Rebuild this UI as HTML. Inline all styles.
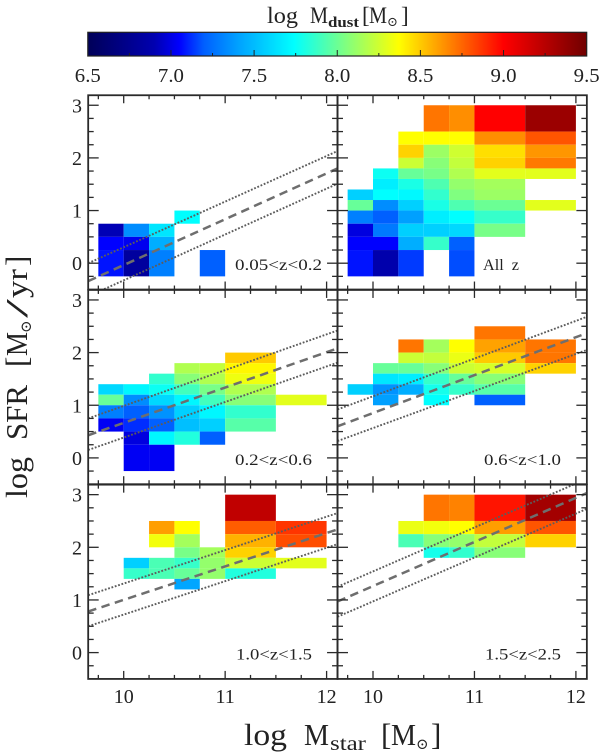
<!DOCTYPE html>
<html lang="en">
<head>
<meta charset="utf-8">
<title>Dust mass in the SFR vs stellar mass plane</title>
<style>
html,body{margin:0;padding:0;background:#fff;width:600px;height:753px;overflow:hidden}
svg{display:block}
text{font-family:"Liberation Serif","DejaVu Serif",serif;fill:#222}
</style>
</head>
<body>
<svg id="chart" xmlns="http://www.w3.org/2000/svg" width="600" height="753" viewBox="0 0 600 753">
  <g font-size="23">
    <text x="267" y="23" textLength="31" lengthAdjust="spacingAndGlyphs">log</text>
    <text x="310" y="23" textLength="18" lengthAdjust="spacingAndGlyphs">M</text>
    <text x="328" y="27" font-size="15" font-weight="bold" textLength="31" lengthAdjust="spacingAndGlyphs">dust</text>
    <text x="362" y="23">[</text>
    <text x="369" y="23" textLength="18" lengthAdjust="spacingAndGlyphs">M</text>
    <text x="387" y="26" font-size="13">⊙</text>
    <text x="401" y="23">]</text>
  </g>
  <g font-size="31">
    <text transform="translate(27,498) rotate(-90)" textLength="41" lengthAdjust="spacingAndGlyphs">log</text>
    <text transform="translate(27,440) rotate(-90)" textLength="55" lengthAdjust="spacingAndGlyphs">SFR</text>
    <text transform="translate(27,367) rotate(-90)">[</text>
    <text transform="translate(27,356) rotate(-90)" textLength="24" lengthAdjust="spacingAndGlyphs">M</text>
    <text transform="translate(31,333) rotate(-90)" font-size="15">⊙</text>
    <text transform="translate(27,318) rotate(-90)" textLength="19" lengthAdjust="spacingAndGlyphs">/</text>
    <text transform="translate(27,298) rotate(-90)" textLength="29" lengthAdjust="spacingAndGlyphs">yr</text>
    <text transform="translate(27,266) rotate(-90)">]</text>
  </g>
  <g font-size="31">
    <text x="244" y="745" textLength="43" lengthAdjust="spacingAndGlyphs">log</text>
    <text x="304" y="745" textLength="25" lengthAdjust="spacingAndGlyphs">M</text>
    <text x="330" y="750" font-size="20" textLength="36" lengthAdjust="spacingAndGlyphs">star</text>
    <text x="381" y="745">[</text>
    <text x="391" y="745" textLength="25" lengthAdjust="spacingAndGlyphs">M</text>
    <text x="416" y="749" font-size="15">⊙</text>
    <text x="431" y="745">]</text>
  </g>
</svg>
<script>
const _ = null;
const xEdges = [9.75, 10, 10.25, 10.5, 10.75, 11, 11.5, 12];
const yEdges = [3, 2.5, 2.25, 2, 1.8, 1.6, 1.4, 1.2, 1, 0.75, 0.5, 0.25, -0.25];
const xTickLabels = ['10', '11', '12'];
const yTickLabels = ['0', '1', '2', '3'];
const colorbarLabels = ['6.5', '7.0', '7.5', '8.0', '8.5', '9.0', '9.5'];
const panelNames = ['0.05<z<0.2', 'All  z', '0.2<z<0.6', '0.6<z<1.0', '1.0<z<1.5', '1.5<z<2.5'];

const colorValues = [6.5, 6.9, 7.05, 7.2, 7.4, 7.74, 8.05, 8.37, 9.0, 9.5];
const colorHex = ['#000058', '#0000b0', '#0000ff', '#0060ff', '#00a0ff', '#00ffff', '#80ff80', '#ffff00', '#ff0000', '#700000'];

const gridLowZ = [
  [_,_,_,_,_,_,_],[_,_,_,_,_,_,_],[_,_,_,_,_,_,_],[_,_,_,_,_,_,_],
  [_,_,_,_,_,_,_],[_,_,_,_,_,_,_],[_,_,_,_,_,_,_],[_,_,_,_,_,_,_],
  [_,_,_,7.74,_,_,_],
  [6.91,7.34,7.65,_,_,_,_],
  [7.05,7.02,7.45,_,_,_,_],
  [7.08,6.82,7.30,_,7.20,_,_]
];
const gridAllZ = [
  [_,_,_,8.71,8.65,9.0,9.35],
  [_,_,8.37,8.37,8.37,8.65,8.79],
  [_,_,8.48,8.12,8.25,8.45,8.63],
  [_,_,8.24,8.07,8.22,8.48,8.70],
  [_,7.77,7.99,8.03,8.17,8.30,8.30],
  [_,7.68,7.80,7.93,8.10,8.14,_],
  [7.57,7.74,7.72,7.86,8.05,8.12,_],
  [7.99,7.34,7.57,7.80,7.93,8.0,8.30],
  [7.30,7.20,7.40,7.68,7.74,7.87,_],
  [6.99,7.28,7.57,7.57,7.60,8.03,_],
  [7.05,7.05,7.45,7.87,7.20,_,_],
  [7.08,6.88,7.14,_,7.17,_,_]
];
const gridZ02 = [
  [_,_,_,_,_,_,_],[_,_,_,_,_,_,_],[_,_,_,_,_,_,_],
  [_,_,_,_,_,8.5,_],
  [_,_,_,8.17,8.22,8.39,_],
  [_,_,7.86,8.07,8.17,8.33,_],
  [7.60,7.71,7.77,7.90,8.03,8.17,_],
  [7.99,7.34,7.60,7.71,7.90,8.07,8.30],
  [7.30,7.20,7.36,7.57,7.71,7.86,_],
  [7.03,7.12,7.20,7.51,7.57,7.95,_],
  [_,6.99,7.71,7.82,7.20,_,_],
  [_,7.03,7.03,_,_,_,_]
];
const gridZ06 = [
  [_,_,_,_,_,_,_],
  [_,_,_,_,_,8.71,_],
  [_,_,8.71,8.14,8.37,8.6,8.71],
  [_,_,8.24,8.22,8.32,8.5,8.71],
  [_,7.99,7.99,8.07,8.24,8.27,8.48],
  [_,7.65,7.68,7.87,7.99,8.07,_],
  [7.57,7.36,7.45,7.79,7.87,7.95,_],
  [_,7.40,_,7.74,_,7.20,_],
  [_,_,_,_,_,_,_],[_,_,_,_,_,_,_],[_,_,_,_,_,_,_],[_,_,_,_,_,_,_]
];
const gridZ10 = [
  [_,_,_,_,_,9.22,_],
  [_,_,8.61,8.37,_,8.77,8.87],
  [_,_,8.34,8.14,_,8.56,8.81],
  [_,_,_,8.03,8.14,8.48,_],
  [_,7.57,7.92,7.87,8.10,8.24,8.30],
  [_,7.87,7.92,7.99,8.10,7.82,_],
  [_,_,_,7.42,_,_,_],
  [_,_,_,_,_,_,_],[_,_,_,_,_,_,_],[_,_,_,_,_,_,_],[_,_,_,_,_,_,_],[_,_,_,_,_,_,_]
];
const gridZ15 = [
  [_,_,_,8.71,8.68,8.95,9.32],
  [_,_,8.32,8.34,8.37,8.61,8.79],
  [_,_,7.92,8.07,8.10,8.22,8.48],
  [_,_,_,7.79,7.86,8.07,_],
  [_,_,_,_,_,_,_],[_,_,_,_,_,_,_],[_,_,_,_,_,_,_],[_,_,_,_,_,_,_],
  [_,_,_,_,_,_,_],[_,_,_,_,_,_,_],[_,_,_,_,_,_,_],[_,_,_,_,_,_,_]
];
const panelGrids = [gridLowZ, gridAllZ, gridZ02, gridZ06, gridZ10, gridZ15];

/* relation values in log SFR at the left and right plot limits, per panel */
const midStart = [-0.34, _, 0.43, 0.60, 0.78, 0.97];
const midEnd = [1.80, _, 2.08, 2.37, 2.34, 3.03];
const upperStart = [0.00, _, 0.75, 0.92, 1.09, 1.25];
const upperEnd = [2.13, _, 2.42, 2.68, 2.65, 3.30];
const lowerStart = [-0.63, _, 0.15, 0.32, 0.50, 0.68];
const lowerEnd = [1.51, _, 1.81, 2.05, 2.06, 2.73];

const svg = document.getElementById('chart');
const NS = 'http://www.w3.org/2000/svg';
const xMin = 9.65, xMax = 12.108, yMin = -0.5, yMax = 3.19;

function make(tag, attrs, parent) {
  const el = document.createElementNS(NS, tag);
  for (const k in attrs) el.setAttribute(k, attrs[k]);
  parent.appendChild(el);
  return el;
}
function xScale(v, col) { return 123.7 + 101.45 * (v - 10) + 249.3 * col; }
function yScale(v, row) { return 263.2 + 194.7 * row - 52.65 * v; }
function cbScale(v) { return 87.8 + (v - 6.5) * 166.3; }
function hexToRgb(h) { return [1, 3, 5].map(i => parseInt(h.substr(i, 2), 16)); }
function colorFor(v) {
  let i = 0;
  while (i < colorValues.length - 2 && v > colorValues[i + 1]) i++;
  const t = Math.max(0, Math.min(1, (v - colorValues[i]) / (colorValues[i + 1] - colorValues[i])));
  const a = hexToRgb(colorHex[i]), b = hexToRgb(colorHex[i + 1]);
  return 'rgb(' + a.map((c, k) => Math.round(c + (b[k] - c) * t)).join(',') + ')';
}

/* colorbar */
const defs = make('defs', {}, svg);
const grad = make('linearGradient', { id: 'cbGrad', x1: '0', x2: '1', y1: '0', y2: '0' }, defs);
colorValues.forEach((v, i) => {
  make('stop', { offset: (v - 6.5) / 3, 'stop-color': colorHex[i] }, grad);
});
const cb = make('g', {}, svg);


make('rect', { x: cbScale(6.5), y: 32.3, width: cbScale(9.5) - cbScale(6.5), height: 23.7, fill: 'url(#cbGrad)', stroke: '#222', 'stroke-width': 1.2 }, cb);
for (let v = 6.75; v < 9.5; v += 0.25) {
  const isMajor = Math.abs(v * 2 - Math.round(v * 2)) < 1e-6;
  make('line', { x1: cbScale(v), x2: cbScale(v), y1: 56, y2: isMajor ? 50 : 53, stroke: '#222', 'stroke-width': 1 }, cb);
}
colorbarLabels.forEach(label => {
  const t = make('text', { x: cbScale(parseFloat(label)) - 13, y: 82, 'font-size': 20, textLength: 26, lengthAdjust: 'spacingAndGlyphs' }, svg);
  t.textContent = label;
  
  
});

/* panels */
const labelX = [235, 483, 235, 484, 236, 485];
const labelW = [87, 36, 77, 77, 76, 76];
panelGrids.forEach((grid, p) => {
  const col = p % 2, row = Math.floor(p / 2);
  const left = xScale(xMin, col), right = xScale(xMax, col);
  const top = yScale(yMax, row), bottom = yScale(yMin, row);

  const g = make('g', {}, svg);
  
  

  const clip = make('clipPath', { id: 'clip' + p }, defs);
  make('rect', { x: left, y: top, width: right - left, height: bottom - top }, clip);

  grid.forEach((cells, r) => {
    cells.forEach((v, c) => {
      if (v === null) return;
      const x0 = xScale(xEdges[c], col), x1 = xScale(xEdges[c + 1], col);
      const y0 = yScale(yEdges[r], row), y1 = yScale(yEdges[r + 1], row);
      const cell = make('rect', { x: x0, y: y0, width: x1 - x0, height: y1 - y0, fill: colorFor(v) }, g);
      
      
    });
  });

  const lineSets = [
    [upperStart[p], upperEnd[p], '1.8 1.7', 1.9, '#5c5c5c', 'upper-scatter-line'],
    [lowerStart[p], lowerEnd[p], '1.8 1.7', 1.9, '#5c5c5c', 'lower-scatter-line'],
    [midStart[p], midEnd[p], '8.5 5.5', 2.5, '#6e6e6e', 'main-sequence-line']
  ];
  lineSets.forEach(s => {
    if (s[0] === null) return;
    const ln = make('line', {
      x1: left, x2: right, y1: yScale(s[0], row), y2: yScale(s[1], row),
      stroke: s[4], 'stroke-width': s[3], 'stroke-dasharray': s[2], 'clip-path': 'url(#clip' + p + ')'
    }, g);
    
    
  });

  const ticks = make('g', { stroke: '#2a2a2a', 'stroke-width': 1.3 }, g);
  
  
  for (let v = 9.75; v <= 12; v += 0.25) {
    const major = Number.isInteger(v);
    const len = major ? 8 : 4, x = xScale(v, col);
    make('line', { x1: x, x2: x, y1: bottom, y2: bottom - len }, ticks);
    make('line', { x1: x, x2: x, y1: top, y2: top + len }, ticks);
  }
  for (let v = -0.25; v <= 3; v += 0.25) {
    const major = Number.isInteger(v);
    const len = major ? 10.5 : 5.5, y = yScale(v, row);
    make('line', { x1: left, x2: left + len, y1: y, y2: y }, ticks);
    make('line', { x1: right, x2: right - len, y1: y, y2: y }, ticks);
  }
  const frame = make('rect', { x: left, y: top, width: right - left, height: bottom - top, fill: 'none', stroke: '#2a2a2a', 'stroke-width': 1.8 }, g);
  
  

  const lab = make('text', { x: labelX[p], y: yScale(0, row) + 7, 'font-size': 16, textLength: labelW[p], lengthAdjust: 'spacingAndGlyphs' }, g);
  lab.textContent = panelNames[p];
  lab.setAttribute('xml:space', 'preserve');
  lab.style.whiteSpace = 'pre';
  
  

  if (col === 0) {
    yTickLabels.forEach(label => {
      const t = make('text', { x: 77, y: yScale(parseFloat(label), row) + 7, 'text-anchor': 'middle', 'font-size': 20 }, svg);
      t.textContent = label;
      
      
    });
  }
  if (row === 2) {
    xTickLabels.forEach(label => {
      const t = make('text', { x: xScale(parseFloat(label), col), y: 703, 'text-anchor': 'middle', 'font-size': 20 }, svg);
      t.textContent = label;
      
      
    });
  }
});
</script>
</body>
</html>
